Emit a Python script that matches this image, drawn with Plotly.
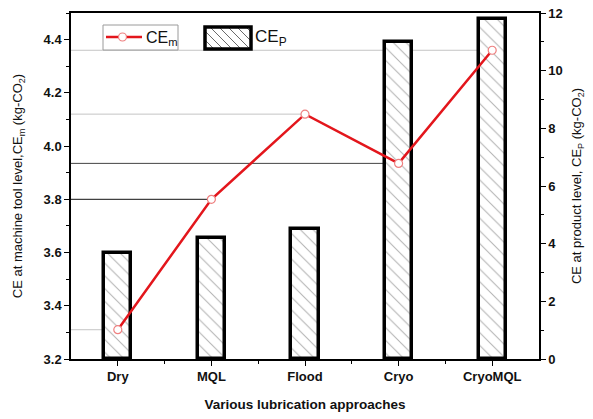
import plotly.graph_objects as go

# ---------------- data ----------------
categories = ["Dry", "MQL", "Flood", "Cryo", "CryoMQL"]
ce_m = [3.31, 3.80, 4.12, 3.935, 4.36]       # left axis (machine tool level)
ce_p = [3.68, 4.18, 4.52, 11.0, 11.8]         # right axis (product level)
ref_line_colors = ["#c4c4c4", "#111111", "#c4c4c4", "#444444", "#c4c4c4"]

xs = list(range(len(categories)))

# ---------------- layout geometry ----------------
W, H = 593, 419
ML, MR, MT, MB = 71, 54, 13, 60
PW, PH = W - ML - MR, H - MT - MB


def px(xp):
    return (xp - ML) / PW


def py(yp):
    return (H - MB - yp) / PH


FONT = "Liberation Sans, Arial, sans-serif"

fig = go.Figure()

fig.add_trace(go.Bar(
    x=xs, y=ce_p, yaxis="y", width=0.29,
    marker=dict(color="white", line=dict(color="black", width=3.5),
                pattern=dict(shape="\\", fgcolor="#6a6a6a", bgcolor="white",
                             size=9, solidity=0.12)),
    showlegend=False, name="CE<sub>P</sub>",
))

fig.add_trace(go.Scatter(
    x=xs, y=ce_m, yaxis="y2", mode="lines+markers",
    line=dict(color="#e3161c", width=2.5),
    marker=dict(symbol="circle", size=8, color="white",
                line=dict(color="#ee8080", width=1.2)),
    showlegend=False, name="CE<sub>m</sub>",
))

shapes = []
# reference lines from left axis to each CE_m point
for i, (v, c) in enumerate(zip(ce_m, ref_line_colors)):
    shapes.append(dict(type="line", xref="x", yref="y2", x0=-0.5, x1=xs[i],
                       y0=v, y1=v, line=dict(color=c, width=1), layer="below"))

# ---- manual legend ----
shapes.append(dict(type="rect", xref="paper", yref="paper",
                   x0=px(103), x1=px(178), y0=py(50), y1=py(25),
                   line=dict(color="#9a9a9a", width=1), fillcolor="white"))
shapes.append(dict(type="line", xref="paper", yref="paper",
                   x0=px(106), x1=px(142), y0=py(37), y1=py(37),
                   line=dict(color="#e3161c", width=2.5)))
shapes.append(dict(type="circle", xref="paper", yref="paper",
                   x0=px(118.5), x1=px(126.5), y0=py(41), y1=py(33),
                   line=dict(color="#ee8080", width=1.2), fillcolor="white"))

sx0, sx1, sy0, sy1 = 205, 251, 27, 49
step = 9
h = sy1 - sy0
k = sx0 - h
while k < sx1:
    ax, ay, bx, by = k, sy0, k + h, sy1
    if ax < sx0:
        ay = ay + (sx0 - ax)
        ax = sx0
    if bx > sx1:
        by = by - (bx - sx1)
        bx = sx1
    if bx > ax:
        shapes.append(dict(type="line", xref="paper", yref="paper",
                           x0=px(ax), y0=py(ay), x1=px(bx), y1=py(by),
                           line=dict(color="#6a6a6a", width=1)))
    k += step
shapes.append(dict(type="rect", xref="paper", yref="paper",
                   x0=px(sx0), x1=px(sx1), y0=py(sy1), y1=py(sy0),
                   line=dict(color="black", width=3.5)))

annotations = [
    dict(xref="paper", yref="paper", x=px(144), y=py(38), xanchor="left",
         yanchor="middle", showarrow=False, text="CE<sub>m</sub>",
         font=dict(family=FONT, size=16, color="#111")),
    dict(xref="paper", yref="paper", x=px(253), y=py(38), xanchor="left",
         yanchor="middle", showarrow=False, text="CE<sub>P</sub>",
         font=dict(family=FONT, size=17, color="#111")),
]

tickfont = dict(family=FONT, size=13, color="#111", weight="bold")
titlefont = dict(family=FONT, size=13, color="#111")

fig.update_layout(
    width=W, height=H,
    margin=dict(l=ML, r=MR, t=MT, b=MB, autoexpand=False),
    paper_bgcolor="white", plot_bgcolor="white",
    shapes=shapes, annotations=annotations,
    bargap=0,
    xaxis=dict(
        range=[-0.5, 4.5], tickvals=xs, ticktext=categories, automargin=False,
        ticks="outside", ticklen=5, tickwidth=1.2, tickcolor="black",
        showline=True, linecolor="black", linewidth=1.5, mirror=True,
        showgrid=False, zeroline=False, tickfont=tickfont,
        minor=dict(tickvals=[i + 0.5 for i in xs[:-1]], ticks="outside",
                   ticklen=3, tickcolor="black"),
        title=dict(text="<b>Various lubrication approaches</b>",
                   font=dict(family=FONT, size=13.5, color="#111"), standoff=16),
    ),
    yaxis=dict(
        side="right", range=[0, 12], tick0=0, dtick=2, automargin=False,
        ticks="outside", ticklen=5, tickwidth=1.2, tickcolor="black",
        showline=True, linecolor="black", linewidth=1.5,
        showgrid=False, zeroline=False, tickfont=tickfont,
        minor=dict(dtick=1, ticks="outside", ticklen=3, tickcolor="black"),
        title=dict(text="CE at product level, CE<sub>P</sub> (kg-CO<sub>2</sub>)",
                   font=titlefont, standoff=10),
    ),
    yaxis2=dict(
        overlaying="y", side="left", range=[3.2, 4.5], tick0=3.2, dtick=0.2,
        tickformat=".1f", automargin=False,
        ticks="outside", ticklen=5, tickwidth=1.2, tickcolor="black",
        showline=True, linecolor="black", linewidth=1.5,
        showgrid=False, zeroline=False, tickfont=tickfont,
        minor=dict(dtick=0.1, ticks="outside", ticklen=3, tickcolor="black"),
        title=dict(text="CE at machine tool level,CE<sub>m</sub> (kg-CO<sub>2</sub>)",
                   font=titlefont, standoff=18),
    ),
)

fig.write_html("out.html", config={"displayModeBar": False},
               post_script="document.body.style.margin='0';document.body.style.overflow='hidden';")
